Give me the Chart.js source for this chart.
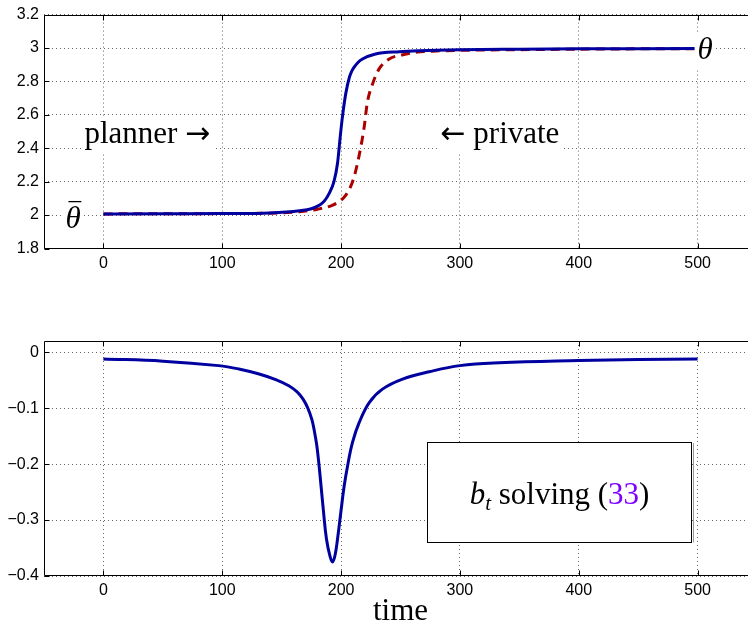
<!DOCTYPE html>
<html>
<head>
<meta charset="utf-8">
<script src="https://cdn.jsdelivr.net/npm/chart.js@4.4.0/dist/chart.umd.min.js"></script>
<style>
  html, body { margin: 0; padding: 0; background: #fff; overflow: hidden; }
  #wrap { position: relative; width: 748px; height: 629px; overflow: hidden; }
  canvas { position: absolute; left: 0; }
  #top { top: 0; }
  #bot { top: 300px; }
</style>
</head>
<body>
<div id="wrap">
  <canvas id="top" width="757" height="280"></canvas>
  <canvas id="bot" width="757" height="329"></canvas>
</div>
<script>
const xTicks = [0, 100, 200, 300, 400, 500];
const thetaTicks = [1.8, 2, 2.2, 2.4, 2.6, 2.8, 3, 3.2];
const bTicks = [-0.4, -0.3, -0.2, -0.1, 0];

// planner (solid) and private (dashed) paths
const plannerTime  = [0, 50, 100, 140, 165, 175, 182, 186, 190, 194, 197, 199, 201, 204, 207, 209, 211, 214, 218, 229, 249, 266, 300, 350, 400, 450, 500];
const plannerTheta = [2.007, 2.008, 2.009, 2.013, 2.026, 2.038, 2.06, 2.085, 2.13, 2.2, 2.31, 2.45, 2.58, 2.73, 2.825, 2.862, 2.885, 2.912, 2.934, 2.964, 2.978, 2.984, 2.99, 2.993, 2.995, 2.996, 2.997];
const privateTime  = [0, 50, 100, 150, 165, 180, 193, 200, 204, 208, 211, 215, 219.5, 222, 226.5, 232, 240.5, 252, 263, 280, 300, 350, 400, 450, 500];
const privateTheta = [2.007, 2.008, 2.009, 2.013, 2.02, 2.035, 2.06, 2.09, 2.12, 2.17, 2.23, 2.35, 2.53, 2.67, 2.785, 2.875, 2.934, 2.96, 2.974, 2.982, 2.986, 2.99, 2.993, 2.995, 2.996];

// b_t
const bTime   = [0, 50, 97, 114, 131, 145, 156, 163, 168, 172, 175.5, 177.5, 179.5, 181, 183, 185.2, 187.7, 190.6, 192.8, 195, 197, 199.8, 202.6, 206, 209.6, 215.2, 223.7, 234.8, 251.7, 274, 300, 333, 400, 450, 500];
const bValues = [-0.012, -0.016, -0.024, -0.030, -0.039, -0.049, -0.060, -0.071, -0.084, -0.100, -0.121, -0.141, -0.166, -0.193, -0.236, -0.285, -0.334, -0.364, -0.375, -0.362, -0.334, -0.286, -0.239, -0.197, -0.161, -0.126, -0.090, -0.066, -0.048, -0.035, -0.024, -0.019, -0.015, -0.013, -0.012];

const sans = '"Liberation Sans", Arial, sans-serif';
const serif = '"Liberation Serif", "DejaVu Serif", serif';
const blue = 'rgb(0,0,160)';
const darkRed = 'rgb(170,0,0)';
const purple = 'rgb(128,0,255)';

const pts = (xs, ys) => xs.map((x, i) => ({ x: x, y: ys[i] }));
const fmt = v => {
  const r = +v.toFixed(2);
  return r < 0 ? '\u2212' + String(-r) : String(r);
};

// draws a run of text parts starting at px, baseline py; returns width
function drawParts(ctx, parts, px, py, measureOnly) {
  let w = 0;
  parts.forEach(p => {
    ctx.font = p.font;
    const pw = ctx.measureText(p.t).width;
    if (!measureOnly) {
      ctx.fillStyle = p.color || '#000';
      ctx.fillText(p.t, px + w, py + (p.dy || 0));
      if (p.bar) { // macron over the letter
        ctx.strokeStyle = '#000';
        ctx.lineWidth = 1.3;
        ctx.beginPath();
        ctx.moveTo(px + w + pw * 0.2, py - p.bar);
        ctx.lineTo(px + w + pw * 1.05, py - p.bar);
        ctx.stroke();
      }
    }
    w += pw;
  });
  return w;
}

const matlabAxes = {
  id: 'matlabAxes',
  afterDraw(chart, args, opts) {
    const { ctx, chartArea: a, scales: { x, y } } = chart;
    ctx.save();

    // text box (bottom panel)
    if (opts.box) {
      const b = opts.box;
      const x0 = x.getPixelForValue(b.x0), x1 = x.getPixelForValue(b.x1);
      const y0 = y.getPixelForValue(b.y0), y1 = y.getPixelForValue(b.y1);
      ctx.fillStyle = '#fff';
      ctx.fillRect(x0, y0, x1 - x0, y1 - y0);
      ctx.strokeStyle = '#999';
      ctx.lineWidth = 1;
      ctx.beginPath();
      ctx.moveTo(Math.round(x1) + 1.5, y0 + 1);
      ctx.lineTo(Math.round(x1) + 1.5, y1);
      ctx.stroke();
      ctx.strokeStyle = '#000';
      ctx.strokeRect(Math.round(x0) + 0.5, Math.round(y0) + 0.5, Math.round(x1 - x0), Math.round(y1 - y0));
      ctx.textBaseline = 'alphabetic';
      const w = drawParts(ctx, b.parts, 0, 0, true);
      drawParts(ctx, b.parts, (x0 + x1) / 2 - w / 2, y.getPixelForValue(b.base), false);
    }

    // text labels with white background
    ctx.textBaseline = 'alphabetic';
    (opts.labels || []).forEach(l => {
      const px = x.getPixelForValue(l.x), py = y.getPixelForValue(l.y);
      const w = drawParts(ctx, l.parts, 0, 0, true);
      if (l.bg) {
        ctx.fillStyle = '#fff';
        ctx.fillRect(px - 3, py - l.size * 0.85, w + 6, l.size * 1.15);
      }
      drawParts(ctx, l.parts, px, py, false);
    });

    if (opts.title) {
      ctx.font = opts.title.font;
      ctx.fillStyle = '#000';
      ctx.textAlign = 'center';
      ctx.fillText(opts.title.text, (a.left + a.right) / 2, a.bottom + opts.title.offset);
      ctx.textAlign = 'left';
    }

    // axes box and inward ticks
    ctx.strokeStyle = '#000';
    ctx.lineWidth = 1;
    ctx.beginPath();
    const L = Math.round(a.left) + 0.5, T = Math.round(a.top) + 0.5, B = Math.round(a.bottom) - 0.5;
    ctx.moveTo(a.right, T); ctx.lineTo(L, T); ctx.lineTo(L, B); ctx.lineTo(a.right, B);
    x.ticks.forEach(t => {
      const px = Math.round(x.getPixelForValue(t.value)) + 0.5;
      ctx.moveTo(px, B); ctx.lineTo(px, B - 5);
      ctx.moveTo(px, T); ctx.lineTo(px, T + 5);
    });
    y.ticks.forEach(t => {
      const py = Math.round(y.getPixelForValue(t.value)) + 0.5;
      ctx.moveTo(L, py); ctx.lineTo(L + 5, py);
    });
    ctx.stroke();
    ctx.restore();
  }
};

function makeScales(yMin, yMax, yTicks, xHeight) {
  return {
    x: {
      type: 'linear', min: -50, max: 550,
      afterBuildTicks: s => { s.ticks = xTicks.map(v => ({ value: v })); },
      afterFit: s => { s.height = xHeight; },
      grid: { color: 'rgba(0,0,0,0.6)', drawTicks: false, lineWidth: 1 },
      border: { display: false, dash: [1, 3] },
      ticks: { padding: 5, color: '#000', font: { family: sans, size: 16 }, maxRotation: 0, autoSkip: false, callback: v => fmt(v) }
    },
    y: {
      type: 'linear', min: yMin, max: yMax,
      afterBuildTicks: s => { s.ticks = yTicks.map(v => ({ value: v })); },
      afterFit: s => { s.width = 44; },
      grid: { color: 'rgba(0,0,0,0.6)', drawTicks: false, lineWidth: 1 },
      border: { display: false, dash: [1, 3] },
      ticks: { padding: 5, color: '#000', font: { family: sans, size: 16 }, autoSkip: false, callback: v => fmt(v) }
    }
  };
}

const roman = '31px ' + serif;
const italic = 'italic 31px ' + serif;
const arrowFont = '30px "DejaVu Sans", sans-serif';

new Chart(document.getElementById('top'), {
  type: 'line',
  data: {
    datasets: [
      { label: 'planner', data: pts(plannerTime, plannerTheta), borderColor: blue, borderWidth: 3,
        pointRadius: 0, cubicInterpolationMode: 'monotone', fill: false },
      { label: 'private', data: pts(privateTime, privateTheta), borderColor: darkRed, borderWidth: 3,
        borderDash: [9, 6], pointRadius: 0, cubicInterpolationMode: 'monotone', fill: false }
    ]
  },
  options: {
    responsive: false, animation: false, events: [],
    layout: { padding: { top: 14, left: 0, right: 0, bottom: 0 } },
    scales: makeScales(1.8, 3.2, thetaTicks, 31.5),
    plugins: {
      legend: { display: false }, tooltip: { enabled: false },
      matlabAxes: {
        labels: [
          { x: -16, y: 2.43, size: 31, bg: true, parts: [{ t: 'planner ', font: roman }, { t: '\u2192', font: arrowFont }] },
          { x: 283.6, y: 2.43, size: 31, bg: true, parts: [{ t: '\u2190', font: arrowFont }, { t: ' private', font: roman }] },
          { x: -32, y: 1.925, size: 31, bg: true, parts: [{ t: '\u03B8', font: italic, bar: 26 }] },
          { x: 500, y: 2.936, size: 31, bg: true, parts: [{ t: '\u03B8', font: italic }] }
        ]
      }
    }
  },
  plugins: [matlabAxes]
});

new Chart(document.getElementById('bot'), {
  type: 'line',
  data: {
    datasets: [
      { label: 'b_t', data: pts(bTime, bValues), borderColor: blue, borderWidth: 3,
        pointRadius: 0, tension: 0.4, fill: false }
    ]
  },
  options: {
    responsive: false, animation: false, events: [],
    layout: { padding: { top: 41, left: 0, right: 0, bottom: 0 } },
    scales: makeScales(-0.4, 0.02, bTicks, 53),
    plugins: {
      legend: { display: false }, tooltip: { enabled: false },
      matlabAxes: {
        box: {
          x0: 272.7, x1: 495, y0: -0.1607, y1: -0.34, base: -0.2707,
          parts: [
            { t: 'b', font: 'italic 31px ' + serif },
            { t: 't', font: 'italic 21px ' + serif, dy: 6 },
            { t: ' solving (', font: roman },
            { t: '33', font: roman, color: purple },
            { t: ')', font: roman }
          ]
        },
        title: { text: 'time', font: '31px ' + serif, offset: 44 }
      }
    }
  },
  plugins: [matlabAxes]
});
</script>
</body>
</html>
